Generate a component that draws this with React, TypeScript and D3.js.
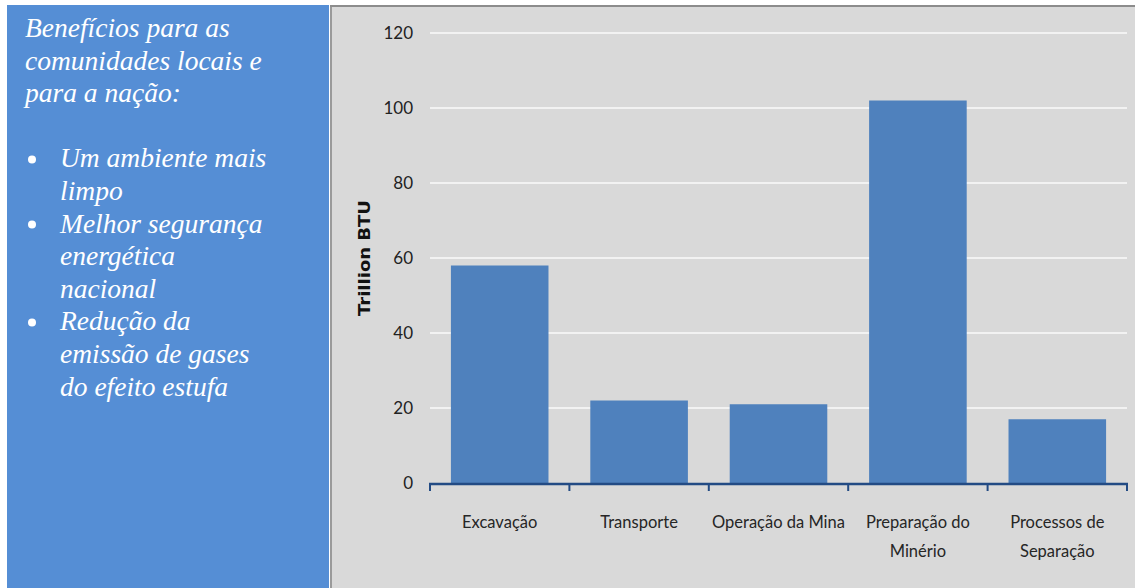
import React from "react";
import * as d3 from "d3";

const categories = [
  ["Excavação"],
  ["Transporte"],
  ["Operação da Mina"],
  ["Preparação do", "Minério"],
  ["Processos de", "Separação"],
];
const values = [58, 22, 21, 102, 17];
const yTicks = [0, 20, 40, 60, 80, 100, 120];
const headingLines = ["Benefícios para as", "comunidades locais e", "para a nação:"];
const bulletItems = [
  ["Um ambiente mais", "limpo"],
  ["Melhor segurança", "energética", "nacional"],
  ["Redução da", "emissão de gases", "do efeito estufa"],
];
const yLabel = "Trillion BTU";

const W = 1135;
const H = 588;

export default function App() {
  const plotLeft = 430;
  const plotRight = 1127;
  const plotTop = 33;
  const plotBottom = 483;

  const y = d3.scaleLinear().domain([0, 120]).range([plotBottom, plotTop]);
  const x = d3
    .scaleBand<number>()
    .domain(values.map((_, i) => i))
    .range([plotLeft, plotRight])
    .paddingInner(0.3)
    .paddingOuter(0.15);
  const step = x.step();
  const boundaries = d3.range(values.length + 1).map((i) => plotLeft + i * step);

  const lineH = 32.6;
  let line = 0;
  const textRows: { text: string; bullet: boolean; first: boolean; row: number }[] = [];
  headingLines.forEach((t) => textRows.push({ text: t, bullet: false, first: false, row: line++ }));
  line++;
  bulletItems.forEach((item) =>
    item.forEach((t, j) => textRows.push({ text: t, bullet: true, first: j === 0, row: line++ }))
  );

  return (
    <svg
      width={W}
      height={H}
      style={{ position: "absolute", left: 0, top: 0, background: "#ffffff" }}
    >
      {/* left text panel */}
      <rect x={7} y={5} width={322} height={H - 5} fill="#558ed5" />
      <g fontFamily="'Liberation Serif', 'Times New Roman', serif" fontStyle="italic" fontSize={27.5} fill="#ffffff">
        {textRows.map((r) => (
          <g key={r.row}>
            <text x={r.bullet ? 60 : 25} y={37 + r.row * lineH}>
              {r.text}
            </text>
            {r.first && <circle cx={32} cy={29 + r.row * lineH} r={4} fill="#ffffff" />}
          </g>
        ))}
      </g>

      {/* chart panel */}
      <rect x={330} y={5} width={W - 330} height={H - 5} fill="#d9d9d9" />
      <line x1={331} x2={331} y1={5} y2={H} stroke="#9a9a9a" strokeWidth={2} />
      <line x1={330} x2={W} y1={6} y2={6} stroke="#8c8c8c" strokeWidth={2} />

      {/* gridlines */}
      {yTicks.slice(1).map((t) => (
        <line key={t} x1={plotLeft} x2={plotRight} y1={y(t)} y2={y(t)} stroke="#f2f2f2" strokeWidth={2} />
      ))}

      {/* bars */}
      {values.map((v, i) => (
        <rect key={i} x={x(i)} y={y(v)} width={x.bandwidth()} height={y(0) - y(v)} fill="#4f81bd" />
      ))}

      {/* x axis */}
      <line x1={plotLeft - 1} x2={plotRight + 1} y1={plotBottom + 1} y2={plotBottom + 1} stroke="#234b84" strokeWidth={2.5} />
      {boundaries.map((bx, i) => (
        <line key={i} x1={bx} x2={bx} y1={plotBottom} y2={plotBottom + 8} stroke="#234b84" strokeWidth={2} />
      ))}

      {/* y tick labels */}
      <g fontFamily="Lato, 'Open Sans', sans-serif" fontSize={17} fill="#222222" textAnchor="end">
        {yTicks.map((t) => (
          <text key={t} x={413} y={y(t)} dy="0.36em">
            {t}
          </text>
        ))}
      </g>

      {/* category labels */}
      <g fontFamily="Lato, 'Open Sans', sans-serif" fontSize={16.5} fill="#262626" textAnchor="middle">
        {categories.map((lines, i) =>
          lines.map((t, j) => (
            <text key={`${i}-${j}`} x={(x(i) as number) + x.bandwidth() / 2} y={528 + j * 29}>
              {t}
            </text>
          ))
        )}
      </g>

      {/* y axis title */}
      <text
        transform={`translate(370, 258) rotate(-90)`}
        textAnchor="middle"
        fontFamily="'DejaVu Sans', 'Liberation Sans', sans-serif"
        fontWeight="bold"
        fontSize={15}
        textLength={116}
        lengthAdjust="spacingAndGlyphs"
        fill="#111111"
      >
        {yLabel}
      </text>
    </svg>
  );
}
